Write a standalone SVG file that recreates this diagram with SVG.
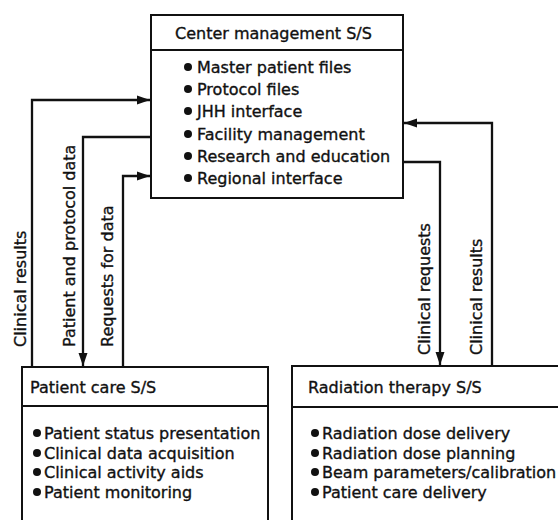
<svg xmlns="http://www.w3.org/2000/svg" width="558" height="520" viewBox="0 0 558 520">
<style>
text{font-family:"DejaVu Sans","Liberation Sans",sans-serif;font-size:16px;fill:#111;stroke:#111;stroke-width:0.35}
.box{fill:#fff;stroke:#111;stroke-width:2}
.div{stroke:#111;stroke-width:1.8}
.bul{fill:#111}
.con{fill:none;stroke:#111;stroke-width:2.3}
</style>
<defs>
<marker id="ah" markerUnits="userSpaceOnUse" markerWidth="14" markerHeight="10" refX="13" refY="5" orient="auto">
<path d="M0,0.5 L13,5 L0,9.5 z" fill="#111"/>
</marker>
</defs>
<rect width="558" height="520" fill="#fff"/>
<g id="center">
<rect class="box" x="151" y="15" width="252" height="183"/>
<line class="div" x1="151" y1="50" x2="403" y2="50"/>
<text x="175" y="39">Center management S/S</text>
<circle class="bul" cx="188" cy="67" r="4"/><text x="197" y="73">Master patient files</text>
<circle class="bul" cx="188" cy="89" r="4"/><text x="197" y="95">Protocol files</text>
<circle class="bul" cx="188" cy="111" r="4"/><text x="197" y="117">JHH interface</text>
<circle class="bul" cx="188" cy="134" r="4"/><text x="197" y="140">Facility management</text>
<circle class="bul" cx="188" cy="156" r="4"/><text x="197" y="162">Research and education</text>
<circle class="bul" cx="188" cy="178" r="4"/><text x="197" y="184">Regional interface</text>
</g>
<g id="patientcare">
<path class="box" d="M22,525 V367 H268 V525"/>
<line class="div" x1="22" y1="406" x2="268" y2="406"/>
<text x="30" y="393">Patient care S/S</text>
<circle class="bul" cx="37" cy="433" r="4"/><text x="44" y="439">Patient status presentation</text>
<circle class="bul" cx="37" cy="453" r="4"/><text x="44" y="459">Clinical data acquisition</text>
<circle class="bul" cx="37" cy="472" r="4"/><text x="44" y="478">Clinical activity aids</text>
<circle class="bul" cx="37" cy="492" r="4"/><text x="44" y="498">Patient monitoring</text>
</g>
<g id="radiation">
<path class="box" d="M292,525 V366 H560"/>
<line class="div" x1="292" y1="407" x2="560" y2="407"/>
<text x="308" y="393">Radiation therapy S/S</text>
<circle class="bul" cx="315" cy="433" r="4"/><text x="322" y="439">Radiation dose delivery</text>
<circle class="bul" cx="315" cy="453" r="4"/><text x="322" y="459">Radiation dose planning</text>
<circle class="bul" cx="315" cy="472" r="4"/><text x="322" y="478">Beam parameters/calibration</text>
<circle class="bul" cx="315" cy="492" r="4"/><text x="322" y="498">Patient care delivery</text>
</g>
<g id="connectors">
<path class="con" d="M32,367 V100 H150" marker-end="url(#ah)"/>
<path class="con" d="M151,137 H83 V366" marker-end="url(#ah)"/>
<path class="con" d="M123,367 V176 H150" marker-end="url(#ah)"/>
<path class="con" d="M403,162 H440 V365" marker-end="url(#ah)"/>
<path class="con" d="M492,366 V123 H404" marker-end="url(#ah)"/>
<text transform="translate(26,347) rotate(-90)">Clinical results</text>
<text transform="translate(75,347) rotate(-90)">Patient and protocol data</text>
<text transform="translate(113,347) rotate(-90)">Requests for data</text>
<text transform="translate(430,355) rotate(-90)">Clinical requests</text>
<text transform="translate(482,355) rotate(-90)">Clinical results</text>
</g>
</svg>
